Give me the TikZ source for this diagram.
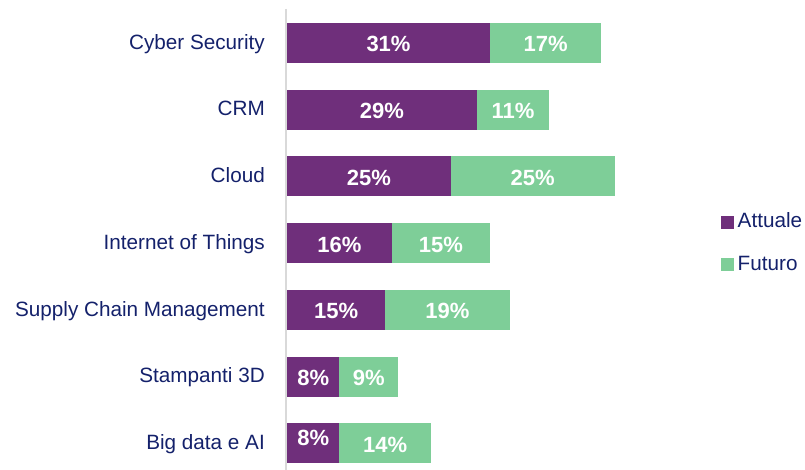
\documentclass[tikz,border=0pt]{standalone}
\usepackage{fontspec}
\setmainfont{Liberation Sans}
\definecolor{navy}{HTML}{14216B}
\definecolor{attuale}{HTML}{6F2F7B}
\definecolor{futuro}{HTML}{7ECE98}
\definecolor{axisgray}{HTML}{D9D9D9}
\tikzset{
  cat/.style={anchor=base east, text=navy, font=\fontsize{20.7}{24}\selectfont, inner sep=0pt},
  val/.style={anchor=base, text=white, font=\fontsize{22}{25}\bfseries\selectfont, inner sep=0pt},
  leg/.style={anchor=base west, text=navy, font=\fontsize{20.7}{24}\selectfont, inner sep=0pt},
}
\begin{document}
\begin{tikzpicture}[x=1pt,y=-1pt]
\useasboundingbox (0,0) rectangle (805,470);
\def\xo{287}
\def\sc{6.55}
\foreach \lab/\a/\f/\dy [count=\i from 0] in {Cyber Security/31/17/9, CRM/29/11/9, Cloud/25/25/9, Internet of Things/16/15/9, Supply Chain Management/15/19/9, Stampanti 3D/8/9/9, Big data e AI/8/14/2.7}{
  \pgfmathsetmacro{\yc}{43+66.7*\i}
  \pgfmathsetmacro{\xa}{\xo+\a*\sc}
  \pgfmathsetmacro{\xf}{\xa+\f*\sc}
  \fill[attuale] (\xo,\yc-20) rectangle (\xa,\yc+20);
  \fill[futuro] (\xa,\yc-20) rectangle (\xf,\yc+20);
  \node[cat] (c\i) at (265,\yc+6.2) {\lab};
  \node[val] (a\i) at ({(\xo+\xa)/2},\yc+\dy) {\a\%};
  \node[val] (f\i) at ({(\xa+\xf)/2},\yc+9) {\f\%};
}
\draw[axisgray, line width=1.8pt] (286,9) -- (286,470);
\fill[attuale] (720.5,216.5) rectangle (733.5,229.5);
\node[leg] (la) at (737.5,228) {Attuale};
\fill[futuro] (720.5,257.5) rectangle (733.5,270.5);
\node[leg] (lf) at (737.5,270) {Futuro};
\end{tikzpicture}
\end{document}
